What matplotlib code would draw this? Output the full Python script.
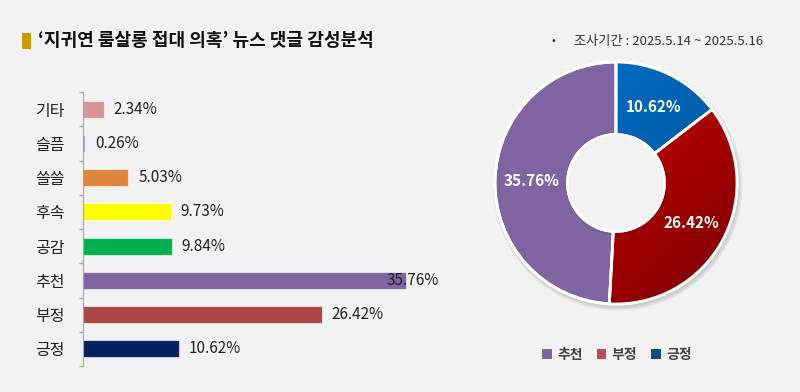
import numpy as np
import matplotlib
matplotlib.use('Agg')
import matplotlib.pyplot as plt
from matplotlib.patches import Rectangle, Circle, PathPatch
from matplotlib.colors import LinearSegmentedColormap

plt.rcParams['font.family'] = ['Noto Sans CJK KR', 'DejaVu Sans']

# Data
categories = ['기타', '슬픔', '쓸쓸', '후속', '공감', '추천', '부정', '긍정']
values = [2.34, 0.26, 5.03, 9.73, 9.84, 35.76, 26.42, 10.62]
bar_colors = ['#D99594', '#95B3D7', '#E0843C', '#FFFF00', '#00B050', '#8064A2', '#AA4643', '#002060']

donut_labels = ['긍정', '부정', '추천']
donut_values = [10.62, 26.42, 35.76]
legend_order = ['추천', '부정', '긍정']
legend_colors = {'추천': '#8064A2', '부정': '#C0504D', '긍정': '#0B4C8C'}

title = '‘지귀연 룸살롱 접대 의혹’ 뉴스 댓글 감성분석'
subtitle = '조사기간 : 2025.5.14 ~ 2025.5.16'

bg = '#F2F2F2'
W, H = 800, 392
fig = plt.figure(figsize=(W / 100, H / 100), dpi=100, facecolor=bg)

def fx(px):
    return px / W

def fy(py):
    return 1 - py / H

# Title
fig.patches.append(Rectangle((fx(22), fy(49)), fx(9), 16 / H, transform=fig.transFigure,
                             facecolor='#CC9900', edgecolor='none'))
fig.text(fx(38), fy(41), title, fontsize=13, fontweight='bold', color='#111111', va='center', ha='left')
fig.text(fx(551), fy(41), '•', fontsize=8, color='#222222', va='center', ha='left')
fig.text(fx(574), fy(41), subtitle, fontsize=9.5, color='#333333', va='center', ha='left')

# Bar chart
ax = fig.add_axes([fx(83), fy(366), fx(377), 274 / H])
ax.set_facecolor('none')
y = np.arange(len(categories))
ax.barh(y, values, height=0.5, color=bar_colors, edgecolor=(1, 1, 1, 0.6), linewidth=0.8)
ax.set_xlim(0, 377 / 9.03)
ax.set_ylim(len(categories) - 0.5, -0.5)
ax.set_yticks(y)
ax.set_yticklabels(categories, fontsize=11.5, color='#222222')
ax.set_yticks(np.arange(len(categories) + 1) - 0.5, minor=True)
ax.tick_params(axis='y', which='major', length=0, pad=13)
ax.tick_params(axis='y', which='minor', length=3, color='#A6A6A6', width=1)
ax.set_xticks([])
for s in ['top', 'right', 'bottom']:
    ax.spines[s].set_visible(False)
ax.spines['left'].set_color('#A6A6A6')
for yi, v in zip(y, values):
    off = 7 if v < 30 else -14
    ax.annotate(f'{v:.2f}%', (v, yi), xytext=(off, 0), textcoords='offset points',
                va='center', ha='left', fontsize=11, color='#222222')

# Donut chart
R = 1.0
hole = 0.4
pad = 1.075
size = 2 * pad * 121
axd = fig.add_axes([fx(616 - size / 2), fy(183 + size / 2), size / W, size / H])

# soft shadow
for k, a in enumerate([0.05, 0.05, 0.05]):
    axd.add_patch(Circle((0.015, -0.025), R + 0.03 - 0.012 * k, facecolor='#000000', alpha=a,
                         edgecolor='none', zorder=0))

wedges, _ = axd.pie(donut_values, radius=R, startangle=90, counterclock=False,
                    colors=['#0065B3', '#B00000', '#8064A2'],
                    wedgeprops=dict(width=R - hole, edgecolor='white', linewidth=2))

grad_x, grad_y = np.meshgrid(np.linspace(0, 1, 200), np.linspace(0, 1, 200))
grad = (grad_x + grad_y) / 2
cmaps = {
    '긍정': LinearSegmentedColormap.from_list('b', ['#0078CC', '#0060B0', '#003A78']),
    '부정': LinearSegmentedColormap.from_list('r', ['#C80000', '#B00000', '#7A0000']),
}
for w, lab in zip(wedges, donut_labels):
    if lab in cmaps:
        im = axd.imshow(grad, extent=[-R, R, -R, R], cmap=cmaps[lab], origin='upper', zorder=2)
        im.set_clip_path(w)
for w in wedges:
    axd.add_patch(PathPatch(w.get_path(), transform=w.get_transform(), facecolor='none',
                            edgecolor='white', linewidth=2, zorder=5))
# hole
axd.add_patch(Circle((0.01, -0.015), hole + 0.02, facecolor='#000000', alpha=0.08, edgecolor='none', zorder=4))
axd.add_patch(Circle((0, 0), hole, facecolor=bg, edgecolor='white', linewidth=2, zorder=5))

axd.set_xlim(-pad, pad)
axd.set_ylim(-pad, pad)
axd.set_aspect('equal')
axd.axis('off')

total = sum(donut_values)
start = 90.0
for v in donut_values:
    span = v / total * 360
    mid = np.deg2rad(start - span / 2)
    r = 0.7
    axd.text(r * np.cos(mid), r * np.sin(mid), f'{v:.2f}%', color='white', fontsize=11,
             fontweight='bold', ha='center', va='center', zorder=6)
    start -= span

# Legend
handles = [Rectangle((0, 0), 1, 1, facecolor=legend_colors[l], edgecolor='none') for l in legend_order]
fig.legend(handles, legend_order, loc='center', bbox_to_anchor=(fx(617), fy(355)), ncol=3,
           frameon=False, handlelength=0.7, handleheight=0.7, handletextpad=0.4,
           columnspacing=1.0, labelcolor='#404040', prop={'weight': 'bold', 'size': 10})

fig.savefig('out.png', dpi=100, facecolor=bg)
